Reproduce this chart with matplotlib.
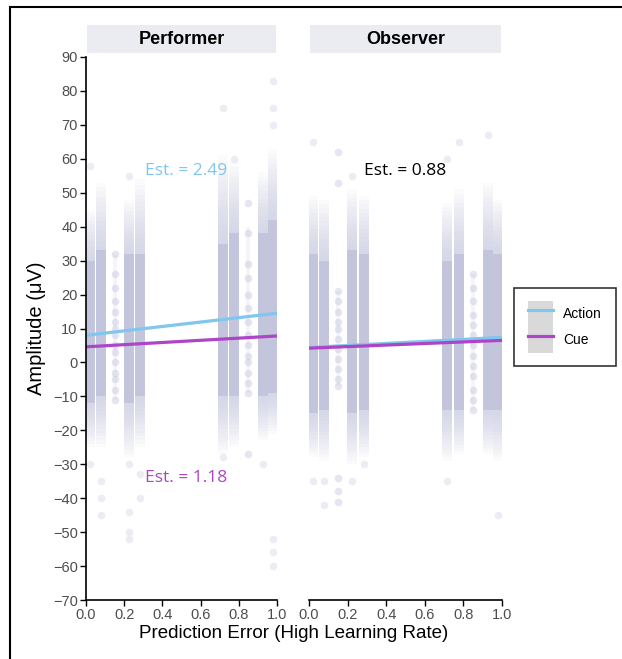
import numpy as np
import matplotlib.pyplot as plt
from matplotlib.patches import Rectangle
from matplotlib.lines import Line2D
from matplotlib.legend_handler import HandlerTuple

# strip positions along prediction error (same for both panels)
strip_x = [0.021, 0.078, 0.225, 0.285, 0.717, 0.777, 0.925, 0.977]
sparse_x = [0.15, 0.85]

# dense single-trial amplitudes per strip: core band and faded tails (uV)
perf_core_lo = [-12, -10, -12, -10, -10, -10, -10, -9]
perf_core_hi = [30, 33, 32, 32, 35, 38, 38, 42]
perf_tail_lo = [-25, -25, -28, -25, -27, -25, -23, -21]
perf_tail_hi = [45, 53, 48, 54, 61, 59, 56, 63]
perf_outliers = [
    [58, -30],
    [-35, -40, -45],
    [55, -30, -44, -50, -52],
    [-33, -40],
    [75, -28],
    [60],
    [-30],
    [83, 75, 70, -52, -56, -60],
]
perf_sparse = [
    [32, 26, 22, 18, 15, 12, 10, 8, 5, 3, 0, -3, -5, -8, -11],
    [47, 38, 29, 25, 20, 16, 12, 8, 5, 2, 0, -3, -6, -9, -27],
]
perf_sparse_band = [(-11, 32), (-9, 40)]

obs_core_lo = [-15, -14, -15, -14, -14, -14, -14, -14]
obs_core_hi = [32, 30, 33, 32, 30, 32, 33, 32]
obs_tail_lo = [-28, -29, -30, -28, -29, -27, -27, -29]
obs_tail_hi = [49, 48, 51, 49, 47, 51, 53, 48]
obs_outliers = [
    [65, -35],
    [-35, -42],
    [55, -35],
    [-30],
    [60, -35],
    [65],
    [67],
    [-45],
]
obs_sparse = [
    [62, 53, 21, 18, 15, 12, 10, 7, 4, 1, -2, -5, -7, -34, -38, -41],
    [26, 22, 18, 14, 11, 8, 5, 2, -1, -4, -8, -11, -14],
]
obs_sparse_band = [(-7, 21), (-14, 26)]

# fitted lines: amplitude at PE = 0 and PE = 1
perf_action = [8.0, 14.5]
perf_cue = [4.6, 7.8]
obs_action = [4.4, 7.4]
obs_cue = [4.2, 6.5]

pt_col = '#bfc1db'
action_col = '#80c6ee'
cue_col = '#ae45c6'
tick_col = '#4d4d4d'

fig = plt.figure(figsize=(6.22, 6.59), dpi=100)
plt.rcParams['font.family'] = ['Liberation Sans', 'DejaVu Sans']

ax1 = fig.add_axes([86/622, 1-600/659, 191/622, 543/659])
ax2 = fig.add_axes([309/622, 1-600/659, 193/622, 543/659])


def draw_panel(ax, core_lo, core_hi, tail_lo, tail_hi, outliers, sparse, band,
               action, cue, title):
    core_lo, core_hi = np.array(core_lo), np.array(core_hi)
    tail_lo, tail_hi = np.array(tail_lo), np.array(tail_hi)
    # tails fade out towards the extremes
    nstep = 14
    for k in range(nstep):
        f = (k + 1) / nstep
        lo = tail_lo + (core_lo - tail_lo) * (1 - f)
        hi = tail_hi - (tail_hi - core_hi) * (1 - f)
        ax.bar(strip_x, hi - lo, bottom=lo, width=0.052,
               color=pt_col, alpha=0.06, linewidth=0)
    ax.bar(strip_x, core_hi - core_lo, bottom=core_lo, width=0.052,
           color=pt_col, alpha=0.8, linewidth=0)
    # faint band behind the sparse columns
    for x, (lo, hi), ys in zip(sparse_x, band, sparse):
        ax.bar(x, hi - lo, bottom=lo, width=0.022, color=pt_col, alpha=0.15,
               linewidth=0)
        ax.scatter([x] * len(ys), ys, s=30, color=pt_col, alpha=0.4, linewidths=0)
    for x, ys in zip(strip_x, outliers):
        ax.scatter([x] * len(ys), ys, s=30, color=pt_col, alpha=0.3, linewidths=0)

    ax.plot([0, 1], action, color=action_col, lw=2.3, solid_capstyle='butt')
    ax.plot([0, 1], cue, color=cue_col, lw=2.3, solid_capstyle='butt')

    ax.set_xlim(0, 1)
    ax.set_ylim(-70, 90)
    ax.set_xticks([0, 0.2, 0.4, 0.6, 0.8, 1.0])
    ax.set_xticklabels(['0.0', '0.2', '0.4', '0.6', '0.8', '1.0'])
    ax.tick_params(colors='black', labelcolor=tick_col, labelsize=10.5, length=4,
                   width=1, pad=2)
    for s in ['top', 'right']:
        ax.spines[s].set_visible(False)
    ax.spines['bottom'].set_linewidth(1.2)
    ax.spines['left'].set_linewidth(1.2)
    ax.set_facecolor('none')

    # facet strip
    ax.add_patch(Rectangle((0.005, 1.007), 0.99, 0.052, transform=ax.transAxes,
                           facecolor='#ebebf2', edgecolor='none', clip_on=False))
    ax.text(0.5, 1.033, title, transform=ax.transAxes, ha='center', va='center',
            fontsize=13, fontweight='bold')


draw_panel(ax1, perf_core_lo, perf_core_hi, perf_tail_lo, perf_tail_hi,
           perf_outliers, perf_sparse, perf_sparse_band, perf_action, perf_cue,
           'Performer')
draw_panel(ax2, obs_core_lo, obs_core_hi, obs_tail_lo, obs_tail_hi,
           obs_outliers, obs_sparse, obs_sparse_band, obs_action, obs_cue,
           'Observer')

ax1.set_yticks(np.arange(-70, 91, 10))
ax1.set_yticklabels([f'{v}'.replace('-', '\u2212') for v in range(-70, 91, 10)])
ax2.spines['left'].set_visible(False)
ax2.set_yticks([])

est_font = ['Open Sans', 'DejaVu Sans']
ax1.text(0.526, 56.5, 'Est. = 2.49', color=action_col, ha='center', va='center',
         fontsize=12.5, family=est_font)
ax1.text(0.524, -34, 'Est. = 1.18', color=cue_col, ha='center', va='center',
         fontsize=12.5, family=est_font)
ax2.text(0.50, 56.5, 'Est. = 0.88', color='black', ha='center', va='center',
         fontsize=12.5, family=est_font)

fig.text(37/622, 1-328/659, 'Amplitude (\u03bcV)', rotation=90, ha='center',
         va='center', fontsize=14.5)
fig.text(294/622, 1-633/659, 'Prediction Error (High Learning Rate)', ha='center',
         va='center', fontsize=13.5)

# legend with grey key background
grey = Rectangle((0, 0), 1, 1, facecolor='#d9d9d9', edgecolor='none')
h_action = (grey, Line2D([], [], color=action_col, lw=2.3))
h_cue = (grey, Line2D([], [], color=cue_col, lw=2.3))
leg = fig.legend([h_action, h_cue], ['Action', 'Cue'],
                 handler_map={tuple: HandlerTuple(ndivide=1, pad=0)},
                 loc='center', bbox_to_anchor=(565/622, 1-327/659),
                 fontsize=10, frameon=True, fancybox=False, edgecolor='black',
                 handlelength=1.8, handleheight=2.45, labelspacing=0.0,
                 borderpad=1.0, handletextpad=0.7, borderaxespad=0)
leg.get_frame().set_linewidth(1.2)

# outer border
fig.patches.append(Rectangle((10/622, -0.05), 1.0, 1.05 - 7/659,
                             transform=fig.transFigure, facecolor='none',
                             edgecolor='black', lw=1.5))

fig.savefig('out.png', dpi=100)
